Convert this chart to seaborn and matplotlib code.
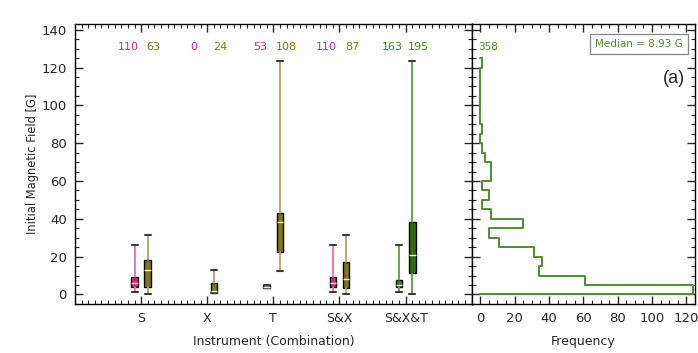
import numpy as np
import pandas as pd
import matplotlib
matplotlib.use("Agg")
import matplotlib.pyplot as plt
from matplotlib.ticker import MultipleLocator
import seaborn as sns

sns.set_style("ticks")
plt.rcParams['font.family'] = ['DejaVu Sans']

# ---- data ----
categories = ['S', 'X', 'T', 'S&X', 'S&X&T']

# left box of each pair (S / T-only / S&X / S&X&T subsets)
left_n = [110, 0, 53, 110, 163]
left_whislo = [1.2, np.nan, 3.2, 1.2, 1.2]
left_q1 = [4.0, np.nan, 3.2, 4.0, 4.0]
left_med = [6.2, np.nan, 4.0, 6.0, 5.1]
left_q3 = [9.3, np.nan, 5.0, 9.3, 7.9]
left_whishi = [25.9, np.nan, 5.0, 25.9, 25.9]

# right box of each pair
right_n = [63, 24, 108, 87, 195]
right_whislo = [0.5, 0.9, 12.5, 0.5, 0.5]
right_q1 = [4.0, 0.9, 22.4, 3.4, 11.1]
right_med = [13.2, 1.8, 38.2, 8.3, 21.0]
right_q3 = [18.1, 6.2, 43.1, 17.3, 38.4]
right_whishi = [31.2, 13.2, 123.6, 31.2, 123.6]

# histogram of all events (5 G bins)
bin_edges = list(range(0, 130, 5))
freq_counts = [124, 61, 34, 36, 31, 11, 5, 25, 6, 1, 5, 1, 6, 6, 3, 1, 0, 1,
               0, 0, 0, 0, 0, 0, 1]
total_n = 358
median_text = 'Median = 8.93 G'

# ---- colours ----
pink, pink_w = '#d6287c', '#ee6aa4'
olive, olive_w = '#7c7914', '#a9a660'
green, green_w = '#3f8a1e', '#5f9c3f'
dgreen = '#2e6c10'
grey = '#8c8c8c'
hist_col = '#4e8e2e'

left_face = [pink, None, grey, pink, green]
left_whis = [pink_w, None, grey, pink_w, green_w]
left_txt = [pink, pink, pink, pink, green]
right_face = [olive, olive, olive, olive, dgreen]
right_whis = [olive_w, olive_w, olive_w, olive_w, green_w]
right_txt = [olive, olive, olive, olive, green]

fig = plt.figure(figsize=(6.98, 3.53), dpi=100)
ax = fig.add_axes([0.1075, 0.139, 0.5683, 0.793])
axh = fig.add_axes([0.6758, 0.139, 0.3199, 0.793])


def draw_box(pos, lo, q1, med, q3, hi, face, whis):
    st = [dict(whislo=lo, q1=q1, med=med, q3=q3, whishi=hi, fliers=[])]
    ax.bxp(st, positions=[pos], widths=0.1, capwidths=0.09, patch_artist=True,
           showfliers=False, manage_ticks=False,
           boxprops=dict(facecolor=face, edgecolor='black', linewidth=1.0),
           whiskerprops=dict(color=whis, linewidth=1.3),
           capprops=dict(color='#3a3a3a', linewidth=1.5),
           medianprops=dict(color='#f2f0d2', linewidth=1.0))


for i, cat in enumerate(categories):
    x = i + 1
    if left_n[i] > 0:
        draw_box(x - 0.1, left_whislo[i], left_q1[i], left_med[i], left_q3[i],
                 left_whishi[i], left_face[i], left_whis[i])
    draw_box(x + 0.1, right_whislo[i], right_q1[i], right_med[i], right_q3[i],
             right_whishi[i], right_face[i], right_whis[i])
    ax.text(x - 0.2, 131, str(left_n[i]), color=left_txt[i], fontsize=8,
            ha='center', va='center')
    ax.text(x + 0.19, 131, str(right_n[i]), color=right_txt[i], fontsize=8,
            ha='center', va='center')

ax.set_xlim(0, 6)
ax.set_ylim(-5, 143)
ax.set_xticks(range(1, 6))
ax.set_xticklabels(categories)
ax.xaxis.set_minor_locator(MultipleLocator(0.1))
ax.yaxis.set_major_locator(MultipleLocator(20))
ax.yaxis.set_minor_locator(MultipleLocator(5))
ax.set_ylabel('Initial Magnetic Field [G]', fontsize=8.3)
ax.set_xlabel('Instrument (Combination)', fontsize=9)
ax.yaxis.set_label_coords(-0.092, 0.5)
ax.xaxis.set_label_coords(0.5, -0.11)

# ---- histogram panel ----
hist_df = pd.DataFrame({'field': [e + 2.5 for e in bin_edges[:-1]],
                        'count': freq_counts})
sns.histplot(data=hist_df, y='field', weights='count', bins=bin_edges,
             element='step', fill=False, color=hist_col, linewidth=1.4, ax=axh)
# close the outline down to zero frequency, as the original step plot does
axh.plot([0, freq_counts[0]], [bin_edges[0], bin_edges[0]], color=hist_col, lw=1.4)
axh.plot([0, freq_counts[-1]], [bin_edges[-1], bin_edges[-1]], color=hist_col, lw=1.4)

axh.set_xlim(-5, 125)
axh.set_ylim(-5, 143)
axh.xaxis.set_major_locator(MultipleLocator(20))
axh.xaxis.set_minor_locator(MultipleLocator(5))
axh.yaxis.set_major_locator(MultipleLocator(20))
axh.yaxis.set_minor_locator(MultipleLocator(5))
axh.set_yticklabels([])
axh.set_ylabel('')
axh.set_xlabel('Frequency', fontsize=9)
axh.xaxis.set_label_coords(0.5, -0.11)

axh.text(4.5, 131, str(total_n), color=hist_col, fontsize=7.5,
         ha='center', va='center')
axh.text(92.5, 132.5, median_text, color=hist_col, fontsize=7.5,
         ha='center', va='center',
         bbox=dict(boxstyle='square,pad=0.5', fc='white', ec='#888888', lw=0.9))
axh.text(113, 114, '(a)', fontsize=13, ha='center', va='center',
         family='Liberation Sans')

for a in (ax, axh):
    a.tick_params(which='both', direction='in', top=True, right=True,
                  labelsize=9.5, pad=6)
    a.tick_params(which='major', length=6, width=1)
    a.tick_params(which='minor', length=3, width=0.8)
    for s in a.spines.values():
        s.set_linewidth(1.0)
        s.set_color('black')
ax.tick_params(axis='x', labelsize=9)

fig.savefig('out.png', dpi=100)
